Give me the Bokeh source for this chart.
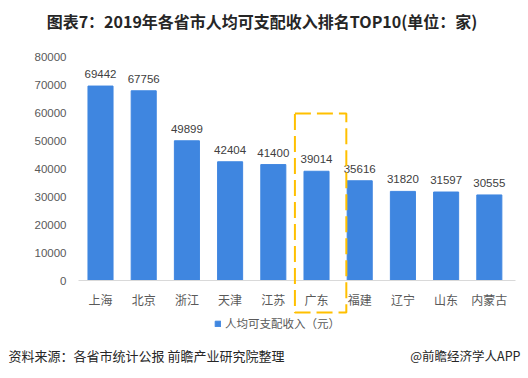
from bokeh.plotting import figure
from bokeh.models import (ColumnDataSource, Label, Legend, LegendItem, BoxAnnotation,
                          FixedTicker, LinearAxis, Range1d)
from bokeh.core.properties import value
from bokeh.embed import file_html
from bokeh.resources import INLINE

provinces = ["上海", "北京", "浙江", "天津", "江苏", "广东", "福建", "辽宁", "山东", "内蒙古"]
income = [69442, 67756, 49899, 42404, 41400, 39014, 35616, 31820, 31597, 30555]
y_ticks = [0, 10000, 20000, 30000, 40000, 50000, 60000, 70000, 80000]
highlight = "广东"

title_text = "图表7：2019年各省市人均可支配收入排名TOP10(单位：家)"
series_name = "人均可支配收入（元）"
source_text = "资料来源：各省市统计公报 前瞻产业研究院整理"
brand_text = "@前瞻经济学人APP"

CJK = "Noto Sans CJK SC"
NUM = "Liberation Sans"
BAR = "#3F86E0"

idx = list(range(len(provinces)))
src = ColumnDataSource(dict(x=idx, y=income, lab=[str(v) for v in income]))

W, H = 528, 378
p = figure(width=W, height=H, x_range=Range1d(-2.315, 9.907), y_range=Range1d(-35000, 100000),
           output_backend="svg", toolbar_location=None,
           x_axis_location=None, y_axis_location=None, min_border=0)
p.outline_line_color = None
p.grid.visible = False
p.background_fill_color = "white"
p.border_fill_color = "white"

r = p.vbar(x="x", top="y", width=0.58, source=src, color=BAR)
p.text(x="x", y="y", text="lab", source=src, text_align="center", text_baseline="bottom",
       y_offset=-8, text_font=value(NUM), text_font_size="11.5px", text_color="#404040")

yaxis = LinearAxis(fixed_location=-0.51, ticker=FixedTicker(ticks=y_ticks),
                   axis_line_color=None, major_tick_line_color=None, minor_tick_line_color=None,
                   major_tick_out=0, major_tick_in=0, minor_tick_out=0, minor_tick_in=0,
                   major_label_standoff=12, major_label_text_font=NUM,
                   major_label_text_font_size="11.5px", major_label_text_color="#595959")
p.add_layout(yaxis, "left")

xaxis = LinearAxis(fixed_location=0, ticker=FixedTicker(ticks=idx),
                   major_label_overrides={i: n for i, n in zip(idx, provinces)},
                   bounds=(-0.51, 9.6),
                   axis_line_color="#D9D9D9", major_tick_line_color=None, minor_tick_line_color=None,
                   major_tick_out=0, major_tick_in=0, minor_tick_out=0, minor_tick_in=0,
                   major_label_standoff=10, major_label_text_font=CJK,
                   major_label_text_font_size="12px", major_label_text_color="#595959")
p.add_layout(xaxis, "below")

hi = provinces.index(highlight)
box = BoxAnnotation(left=hi - 0.5, right=hi + 0.69, top=59600, bottom=-11400,
                    fill_color=None, fill_alpha=0, line_color="#FFC000", line_alpha=1,
                    line_width=2, line_dash="16 6")
p.add_layout(box)

legend = Legend(items=[LegendItem(label=series_name, renderers=[r])],
                location=(214, 47), orientation="horizontal",
                glyph_width=7, glyph_height=7, label_height=12,
                label_text_font=CJK, label_text_font_size="11.5px",
                label_text_color="#595959", background_fill_alpha=0, border_line_color=None,
                padding=0, margin=0, label_standoff=4)
p.add_layout(legend)

p.add_layout(Label(x=261.5, y=H - 20, x_units="screen", y_units="screen", text=title_text,
                   text_font=CJK, text_font_size="16px", text_font_style="bold",
                   text_color="#262626", text_align="center", text_baseline="middle"))
p.add_layout(Label(x=8, y=H - 355, x_units="screen", y_units="screen", text=source_text,
                   text_font=CJK, text_font_size="13px", text_color="#262626",
                   text_align="left", text_baseline="middle"))
p.add_layout(Label(x=520, y=H - 355, x_units="screen", y_units="screen", text=brand_text,
                   text_font=CJK, text_font_size="12.5px", text_color="#262626",
                   text_align="right", text_baseline="middle"))

open("out.html", "w").write(file_html(p, INLINE))
